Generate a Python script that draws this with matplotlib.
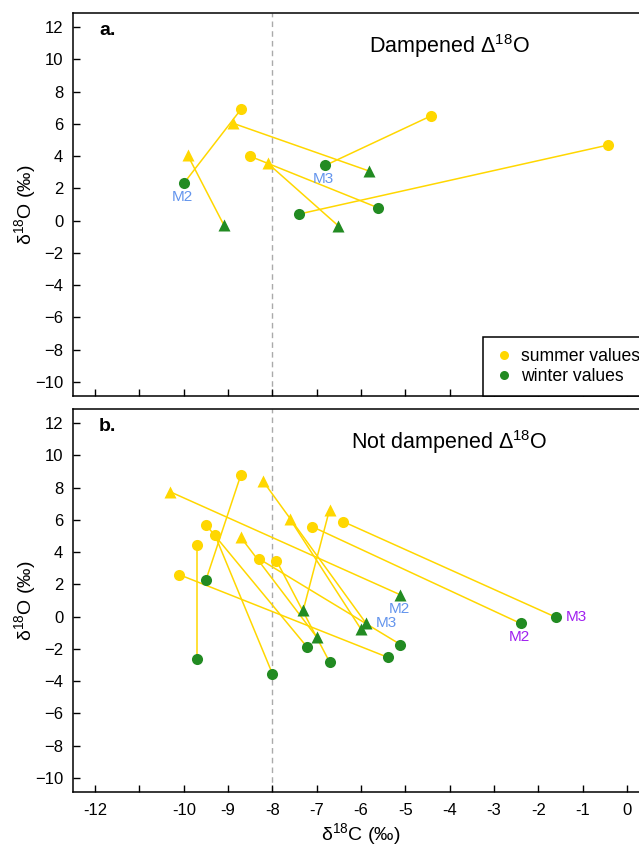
import matplotlib
matplotlib.use('Agg')
import matplotlib.pyplot as plt
from matplotlib.lines import Line2D

plt.rcParams['font.family'] = ['Liberation Sans', 'DejaVu Sans']
plt.rcParams['mathtext.fontset'] = 'custom'
plt.rcParams['mathtext.rm'] = 'Liberation Sans'
plt.rcParams['mathtext.it'] = 'Liberation Sans:italic'

# panel a: dampened, summer -> winter pairs
a_summer_x = [-8.71, -4.41, -0.42, -8.51, -9.91, -8.90, -8.11]
a_summer_y = [6.90, 6.51, 4.69, 4.00, 4.05, 6.05, 3.57]
a_winter_x = [-10.00, -6.81, -7.41, -5.61, -9.10, -5.81, -6.51]
a_winter_y = [2.31, 3.42, 0.40, 0.79, -0.25, 3.07, -0.33]
a_shape = ['o', 'o', 'o', 'o', '^', '^', '^']
# (pair index, text, colour, side)
a_labels = [(0, 'M2', 'cornflowerblue', 'below'),
            (1, 'M3', 'cornflowerblue', 'below')]

# panel b: not dampened
b_summer_x = [-10.32, -8.21, -7.61, -6.71, -8.71, -8.71, -9.71, -10.10,
              -9.30, -9.50, -8.31, -7.91, -7.10, -6.40]
b_summer_y = [7.76, 8.40, 6.08, 6.64, 4.91, 8.80, 4.47, 2.60,
              5.08, 5.70, 3.60, 3.48, 5.58, 5.89]
b_winter_x = [-5.11, -5.89, -6.00, -7.30, -7.00, -9.50, -9.71, -5.40,
              -8.00, -7.21, -5.11, -6.71, -2.40, -1.60]
b_winter_y = [1.35, -0.40, -0.78, 0.44, -1.27, 2.27, -2.62, -2.52,
              -3.54, -1.91, -1.73, -2.81, -0.42, -0.04]
b_shape = ['^', '^', '^', '^', '^', 'o', 'o', 'o', 'o', 'o', 'o', 'o', 'o', 'o']
b_labels = [(0, 'M2', 'cornflowerblue', 'below'),
            (1, 'M3', 'cornflowerblue', 'right'),
            (12, 'M2', '#A020F0', 'below'),
            (13, 'M3', '#A020F0', 'right')]

x_ticks = list(range(-12, 1))
x_ticklabels = ['' if t == -11 else str(t) for t in x_ticks]
y_ticks = list(range(-10, 13, 2))

summer_col = 'gold'
winter_col = 'forestgreen'

fig = plt.figure(figsize=(6.39, 8.48), dpi=100)
ax_a = fig.add_axes([73 / 639, 1 - 396 / 848, 576 / 639, 383 / 848])
ax_b = fig.add_axes([73 / 639, 1 - 792 / 848, 576 / 639, 383 / 848])


def draw_panel(ax, sx, sy, wx, wy, shapes, labels, tag, title):
    ax.axvline(-8, color='#aaaaaa', lw=1, ls=(0, (4, 3)), zorder=1)
    for i in range(len(sx)):
        ax.plot([sx[i], wx[i]], [sy[i], wy[i]], color=summer_col, lw=1.1, zorder=2)
    for i in range(len(sx)):
        ms = 8.5 if shapes[i] == '^' else 8
        ax.plot(sx[i], sy[i], marker=shapes[i], color=summer_col, ms=ms, mec='none', zorder=3)
        ax.plot(wx[i], wy[i], marker=shapes[i], color=winter_col, ms=ms, mec='none', zorder=3)
    for i, txt, col, side in labels:
        if side == 'below':
            ax.annotate(txt, (wx[i], wy[i]), xytext=(-1, -10), textcoords='offset points',
                        ha='center', va='center', color=col, fontsize=11)
        else:
            ax.annotate(txt, (wx[i], wy[i]), xytext=(7, 0), textcoords='offset points',
                        ha='left', va='center', color=col, fontsize=11)
    ax.text(0.045, 0.955, tag, transform=ax.transAxes, fontsize=14, fontweight='bold',
            ha='left', va='center')
    ax.text(-4, 10.85, title, fontsize=15.5, ha='center', va='center')
    ax.set_xlim(-12.5, 0.5)
    ax.set_ylim(-10.88, 12.88)
    ax.set_xticks(x_ticks)
    ax.set_yticks(y_ticks)
    ax.tick_params(direction='in', length=5, width=1, labelsize=12)
    ax.tick_params(axis='y', pad=7)
    ax.tick_params(axis='x', pad=8)
    ax.set_ylabel('δ$^{18}$O (‰)', fontsize=14, va='center')
    ax.yaxis.set_label_coords(-0.083, 0.5)
    for s in ax.spines.values():
        s.set_linewidth(1.1)


draw_panel(ax_a, a_summer_x, a_summer_y, a_winter_x, a_winter_y, a_shape, a_labels,
           'a.', 'Dampened Δ$^{18}$O')
draw_panel(ax_b, b_summer_x, b_summer_y, b_winter_x, b_winter_y, b_shape, b_labels,
           'b.', 'Not dampened Δ$^{18}$O')

ax_a.set_xticklabels([])
ax_b.set_xticklabels(x_ticklabels)
ax_b.set_xlabel('δ$^{18}$C (‰)', fontsize=14, labelpad=2)

handles = [Line2D([], [], ls='none', marker='o', color=summer_col, ms=6.5, mec='none'),
           Line2D([], [], ls='none', marker='o', color=winter_col, ms=6.5, mec='none')]
leg = ax_a.legend(handles, ['summer values', 'winter values'], loc='lower left',
                  bbox_to_anchor=(0.712, 0.0), fontsize=12.7, frameon=True, fancybox=False,
                  framealpha=1, edgecolor='black', borderpad=0.6, handletextpad=0.35,
                  labelspacing=0.2, handlelength=1.2, borderaxespad=0)
leg.get_frame().set_linewidth(1.1)

fig.savefig('out.png', dpi=100, facecolor='white')
